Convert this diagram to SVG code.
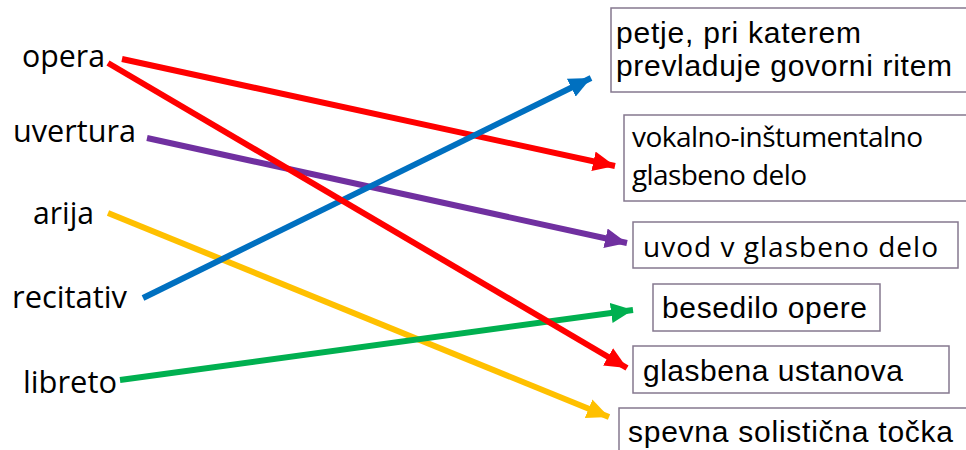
<svg xmlns="http://www.w3.org/2000/svg" width="966" height="450" viewBox="0 0 966 450">
<style>
.l{font-family:"Open Sans","Liberation Sans",sans-serif;font-size:31px;fill:#000}
.r{font-family:"Liberation Sans",Arial,sans-serif;font-size:30px;fill:#000}
.c{font-family:"Open Sans","Liberation Sans",sans-serif;font-size:28px;fill:#000}
.box{fill:#fff;stroke:#85788f;stroke-width:1.5}
.ln{fill:none;stroke-width:6}
</style>
<defs>
<marker id="mr" markerUnits="userSpaceOnUse" markerWidth="24" markerHeight="20" refX="22" refY="10" orient="auto"><path d="M0,0 L22,10 L0,20 Z" fill="#ff0000"/></marker>
<marker id="mp" markerUnits="userSpaceOnUse" markerWidth="24" markerHeight="20" refX="22" refY="10" orient="auto"><path d="M0,0 L22,10 L0,20 Z" fill="#7030a0"/></marker>
<marker id="my" markerUnits="userSpaceOnUse" markerWidth="24" markerHeight="20" refX="22" refY="10" orient="auto"><path d="M0,0 L22,10 L0,20 Z" fill="#ffc000"/></marker>
<marker id="mb" markerUnits="userSpaceOnUse" markerWidth="24" markerHeight="20" refX="22" refY="10" orient="auto"><path d="M0,0 L22,10 L0,20 Z" fill="#0070c0"/></marker>
<marker id="mg" markerUnits="userSpaceOnUse" markerWidth="24" markerHeight="20" refX="22" refY="10" orient="auto"><path d="M0,0 L22,10 L0,20 Z" fill="#00b050"/></marker>
</defs>
<rect width="966" height="450" fill="#fff"/>
<g id="n-opera"><text class="l" x="22" y="67" textLength="83" lengthAdjust="spacingAndGlyphs">opera</text></g>
<g id="n-uvertura"><text class="l" x="13" y="142" textLength="123" lengthAdjust="spacingAndGlyphs">uvertura</text></g>
<g id="n-arija"><text class="l" x="33" y="224" textLength="61" lengthAdjust="spacingAndGlyphs">arija</text></g>
<g id="n-recitativ"><text class="l" x="12" y="308" textLength="115" lengthAdjust="spacingAndGlyphs">recitativ</text></g>
<g id="n-libreto"><text class="l" x="23" y="393" textLength="94" lengthAdjust="spacingAndGlyphs">libreto</text></g>
<g id="b1"><rect class="box" x="611" y="8" width="360" height="84"/><text class="r" x="616" y="43" textLength="245" lengthAdjust="spacing">petje, pri katerem</text><text class="r" x="616" y="76" textLength="336" lengthAdjust="spacing">prevladuje govorni ritem</text></g>
<g id="b2"><rect class="box" x="624" y="115" width="350" height="86"/><text class="c" x="632" y="147" textLength="291" lengthAdjust="spacing">vokalno-inštumentalno</text><text class="c" x="632" y="185" textLength="175" lengthAdjust="spacing">glasbeno delo</text></g>
<g id="b3"><rect class="box" x="633" y="222" width="325" height="46"/><text class="c" x="643" y="257" textLength="295" lengthAdjust="spacing">uvod v glasbeno delo</text></g>
<g id="b4"><rect class="box" x="653" y="284" width="227" height="47"/><text class="r" x="662" y="318" textLength="205" lengthAdjust="spacing">besedilo opere</text></g>
<g id="b5"><rect class="box" x="633" y="346" width="316" height="47"/><text class="r" x="643" y="381" textLength="260" lengthAdjust="spacing">glasbena ustanova</text></g>
<g id="b6"><rect class="box" x="619" y="408" width="360" height="60"/><text class="r" x="628" y="442" textLength="325" lengthAdjust="spacing">spevna solistična točka</text></g>
<g id="connectors">
<line class="ln" stroke="#ff0000" x1="122" y1="59" x2="615" y2="166" marker-end="url(#mr)"/>
<line class="ln" stroke="#7030a0" x1="147" y1="138" x2="627" y2="243" marker-end="url(#mp)"/>
<line class="ln" stroke="#ffc000" x1="108" y1="213" x2="609" y2="417" marker-end="url(#my)"/>
<line class="ln" stroke="#0070c0" x1="143" y1="298" x2="591" y2="78" marker-end="url(#mb)"/>
<line class="ln" stroke="#00b050" x1="120" y1="380" x2="633" y2="310" marker-end="url(#mg)"/>
<line class="ln" stroke="#ff0000" x1="108" y1="63" x2="627" y2="368" marker-end="url(#mr)"/>
</g>
</svg>
